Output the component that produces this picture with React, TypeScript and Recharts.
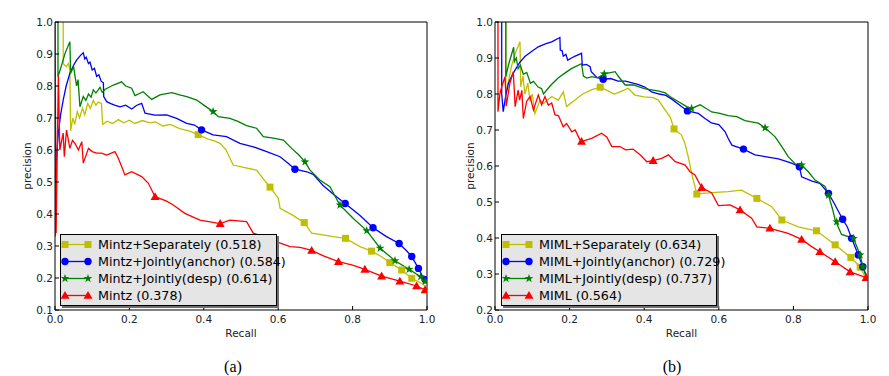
import React from 'react';
import { ComposedChart, Legend, Line, Scatter, XAxis, YAxis } from 'recharts';

type Pt = [number, number];
type Shape = 'square' | 'circle' | 'star' | 'triangle';

const FONT = '"DejaVu Sans", Verdana, sans-serif';
const YELLOW = '#bfbf00';
const BLUE = '#0000ff';
const GREEN = '#008000';
const RED = '#ff0000';

const recallTicks = [0, 0.2, 0.4, 0.6, 0.8, 1.0];
const precisionTicksA = [0.1, 0.2, 0.3, 0.4, 0.5, 0.6, 0.7, 0.8, 0.9, 1.0];
const precisionTicksB = [0.2, 0.3, 0.4, 0.5, 0.6, 0.7, 0.8, 0.9, 1.0];

// ---- (a) Mintz based runs, points are [recall, precision] ----
const mintzSepCurve: Pt[] = [
  [0.022, 1.0], [0.022, 0.87], [0.03, 0.86], [0.036, 0.87], [0.04, 0.85], [0.042, 0.66], [0.048, 0.7],
  [0.053, 0.68], [0.06, 0.72], [0.066, 0.7], [0.074, 0.73], [0.08, 0.71], [0.088, 0.745], [0.095, 0.73],
  [0.103, 0.755], [0.11, 0.74], [0.116, 0.75], [0.125, 0.745], [0.128, 0.68], [0.14, 0.69], [0.155, 0.683],
  [0.17, 0.695], [0.185, 0.685], [0.2, 0.693], [0.215, 0.683], [0.235, 0.692], [0.255, 0.685], [0.27, 0.688],
  [0.29, 0.675], [0.31, 0.68], [0.335, 0.667], [0.36, 0.66], [0.385, 0.648], [0.41, 0.635], [0.43, 0.628],
  [0.444, 0.621], [0.46, 0.6], [0.479, 0.553], [0.51, 0.545], [0.542, 0.537], [0.56, 0.51], [0.578, 0.484],
  [0.6, 0.45], [0.605, 0.418], [0.625, 0.405], [0.641, 0.395], [0.67, 0.373], [0.69, 0.34], [0.72, 0.335],
  [0.748, 0.329], [0.781, 0.324], [0.82, 0.298], [0.851, 0.284], [0.88, 0.265], [0.9, 0.248], [0.932, 0.225],
  [0.959, 0.199], [0.986, 0.183], [0.995, 0.175],
];
const mintzSepMarks: Pt[] = [
  [0.385, 0.648], [0.578, 0.484], [0.67, 0.373], [0.781, 0.324], [0.851, 0.284], [0.9, 0.248], [0.932, 0.225],
  [0.959, 0.199],
];

const mintzAnchorCurve: Pt[] = [
  [0.0, 0.33], [0.0, 0.5], [0.004, 0.58], [0.009, 0.652], [0.015, 0.71], [0.022, 0.756], [0.03, 0.8],
  [0.04, 0.84], [0.05, 0.865], [0.058, 0.881], [0.068, 0.895], [0.076, 0.904], [0.08, 0.885], [0.084, 0.89],
  [0.09, 0.87], [0.094, 0.875], [0.1, 0.85], [0.106, 0.855], [0.112, 0.83], [0.118, 0.835], [0.124, 0.815],
  [0.13, 0.81], [0.131, 0.767], [0.139, 0.751], [0.15, 0.745], [0.16, 0.74], [0.175, 0.735], [0.19, 0.74],
  [0.206, 0.728], [0.22, 0.74], [0.233, 0.746], [0.242, 0.715], [0.255, 0.712], [0.269, 0.709], [0.3, 0.71],
  [0.327, 0.699], [0.354, 0.683], [0.375, 0.678], [0.394, 0.663], [0.425, 0.647], [0.461, 0.642],
  [0.497, 0.621], [0.533, 0.61], [0.569, 0.595], [0.605, 0.579], [0.625, 0.56], [0.645, 0.54], [0.677, 0.532],
  [0.694, 0.524], [0.72, 0.49], [0.75, 0.46], [0.78, 0.433], [0.82, 0.395], [0.855, 0.357], [0.89, 0.33],
  [0.925, 0.308], [0.945, 0.285], [0.959, 0.267], [0.977, 0.23], [0.995, 0.189],
];
const mintzAnchorMarks: Pt[] = [
  [0.394, 0.663], [0.645, 0.54], [0.78, 0.433], [0.855, 0.357], [0.925, 0.308], [0.959, 0.267], [0.977, 0.23],
  [0.995, 0.195],
];

const mintzDespCurve: Pt[] = [
  [0.008, 1.0], [0.008, 0.829], [0.018, 0.866], [0.027, 0.902], [0.04, 0.938], [0.042, 0.84], [0.05, 0.86],
  [0.058, 0.8], [0.062, 0.82], [0.067, 0.735], [0.076, 0.767], [0.083, 0.755], [0.09, 0.775], [0.097, 0.765],
  [0.103, 0.788], [0.11, 0.778], [0.121, 0.796], [0.127, 0.78], [0.135, 0.79], [0.157, 0.803], [0.179, 0.813],
  [0.19, 0.8], [0.206, 0.793], [0.215, 0.77], [0.237, 0.782], [0.26, 0.758], [0.282, 0.772], [0.314, 0.779],
  [0.335, 0.772], [0.354, 0.767], [0.381, 0.756], [0.399, 0.741], [0.425, 0.72], [0.439, 0.704], [0.47, 0.699],
  [0.49, 0.69], [0.515, 0.676], [0.542, 0.668], [0.56, 0.642], [0.587, 0.637], [0.614, 0.631], [0.636, 0.605],
  [0.655, 0.585], [0.672, 0.563], [0.685, 0.538], [0.712, 0.506], [0.739, 0.485], [0.766, 0.428],
  [0.802, 0.386], [0.838, 0.348], [0.874, 0.293], [0.914, 0.254], [0.952, 0.227], [0.983, 0.204],
  [0.995, 0.183],
];
const mintzDespMarks: Pt[] = [
  [0.425, 0.72], [0.672, 0.563], [0.766, 0.428], [0.838, 0.348], [0.874, 0.293], [0.914, 0.254], [0.952, 0.227],
  [0.983, 0.204], [0.995, 0.19],
];

const mintzCurve: Pt[] = [
  [0.0, 1.0], [0.003, 0.34], [0.009, 0.834], [0.013, 0.6], [0.022, 0.653], [0.025, 0.579], [0.031, 0.662],
  [0.04, 0.605], [0.047, 0.63], [0.054, 0.62], [0.063, 0.6], [0.072, 0.626], [0.076, 0.559], [0.09, 0.605],
  [0.1, 0.595], [0.112, 0.59], [0.125, 0.59], [0.139, 0.584], [0.161, 0.595], [0.17, 0.575], [0.188, 0.522],
  [0.206, 0.532], [0.233, 0.517], [0.251, 0.496], [0.269, 0.454], [0.3, 0.44], [0.318, 0.428], [0.349, 0.402],
  [0.39, 0.381], [0.444, 0.37], [0.47, 0.381], [0.515, 0.376], [0.533, 0.34], [0.56, 0.33], [0.596, 0.313],
  [0.632, 0.298], [0.659, 0.296], [0.69, 0.286], [0.72, 0.27], [0.762, 0.251], [0.8, 0.24], [0.833, 0.227],
  [0.878, 0.206], [0.927, 0.19], [0.972, 0.175], [0.995, 0.163],
];
const mintzMarks: Pt[] = [
  [0.269, 0.454], [0.444, 0.37], [0.69, 0.286], [0.762, 0.251], [0.833, 0.227], [0.878, 0.206], [0.927, 0.19],
  [0.972, 0.175], [0.995, 0.163],
];

// ---- (b) MIML based runs ----
const mimlSepCurve: Pt[] = [
  [0.029, 1.0], [0.029, 0.8], [0.035, 0.83], [0.045, 0.88], [0.055, 0.915], [0.067, 0.945], [0.069, 0.82],
  [0.075, 0.85], [0.08, 0.8], [0.088, 0.83], [0.094, 0.78], [0.1, 0.8], [0.107, 0.746], [0.121, 0.783],
  [0.13, 0.774], [0.152, 0.793], [0.17, 0.783], [0.183, 0.806], [0.192, 0.765], [0.21, 0.78], [0.235, 0.8],
  [0.26, 0.812], [0.282, 0.819], [0.3, 0.81], [0.32, 0.8], [0.34, 0.808], [0.357, 0.816], [0.375, 0.797],
  [0.4, 0.792], [0.424, 0.79], [0.438, 0.783], [0.456, 0.756], [0.47, 0.735], [0.48, 0.703], [0.5, 0.686],
  [0.509, 0.663], [0.518, 0.626], [0.527, 0.58], [0.536, 0.543], [0.541, 0.522], [0.581, 0.526],
  [0.625, 0.529], [0.661, 0.533], [0.702, 0.51], [0.742, 0.487], [0.769, 0.45], [0.813, 0.431], [0.862, 0.42],
  [0.912, 0.381], [0.954, 0.346], [0.979, 0.319], [0.994, 0.288],
];
const mimlSepMarks: Pt[] = [
  [0.282, 0.819], [0.48, 0.703], [0.541, 0.522], [0.702, 0.51], [0.769, 0.45], [0.862, 0.42], [0.912, 0.381],
  [0.954, 0.346], [0.979, 0.319],
];

const mimlAnchorCurve: Pt[] = [
  [0.018, 1.0], [0.018, 0.8], [0.022, 0.751], [0.028, 0.79], [0.036, 0.83], [0.045, 0.85], [0.054, 0.867],
  [0.066, 0.887], [0.08, 0.904], [0.098, 0.918], [0.116, 0.931], [0.135, 0.939], [0.152, 0.945], [0.174, 0.957],
  [0.175, 0.922], [0.18, 0.92], [0.183, 0.905], [0.19, 0.91], [0.195, 0.894], [0.205, 0.9], [0.215, 0.905],
  [0.232, 0.913], [0.234, 0.88], [0.245, 0.882], [0.255, 0.876], [0.258, 0.862], [0.273, 0.846], [0.29, 0.841],
  [0.31, 0.843], [0.33, 0.836], [0.35, 0.836], [0.37, 0.83], [0.385, 0.826], [0.4, 0.82], [0.42, 0.806],
  [0.44, 0.8], [0.458, 0.796], [0.475, 0.785], [0.5, 0.765], [0.516, 0.753], [0.545, 0.746], [0.563, 0.732],
  [0.58, 0.72], [0.6, 0.715], [0.617, 0.695], [0.625, 0.677], [0.635, 0.658], [0.666, 0.647], [0.697, 0.631],
  [0.724, 0.626], [0.76, 0.62], [0.795, 0.608], [0.816, 0.598], [0.822, 0.57], [0.85, 0.558], [0.871, 0.552],
  [0.894, 0.524], [0.91, 0.495], [0.932, 0.452], [0.945, 0.43], [0.956, 0.399], [0.974, 0.353], [0.986, 0.32],
  [0.995, 0.297],
];
const mimlAnchorMarks: Pt[] = [
  [0.29, 0.841], [0.516, 0.753], [0.666, 0.647], [0.816, 0.598], [0.894, 0.524], [0.932, 0.452], [0.956, 0.399],
  [0.974, 0.353], [0.986, 0.32],
];

const mimlDespCurve: Pt[] = [
  [0.029, 1.0], [0.029, 0.848], [0.036, 0.88], [0.05, 0.93], [0.052, 0.89], [0.057, 0.9], [0.062, 0.87],
  [0.068, 0.88], [0.076, 0.855], [0.085, 0.86], [0.095, 0.83], [0.103, 0.835], [0.115, 0.82], [0.125, 0.815],
  [0.13, 0.8], [0.15, 0.825], [0.17, 0.845], [0.19, 0.86], [0.206, 0.871], [0.232, 0.884], [0.237, 0.85],
  [0.246, 0.844], [0.26, 0.848], [0.275, 0.845], [0.293, 0.856], [0.322, 0.862], [0.33, 0.85], [0.349, 0.825],
  [0.371, 0.825], [0.4, 0.815], [0.424, 0.811], [0.44, 0.808], [0.456, 0.803], [0.469, 0.793], [0.49, 0.78],
  [0.514, 0.765], [0.527, 0.76], [0.55, 0.77], [0.581, 0.75], [0.603, 0.746], [0.625, 0.74], [0.648, 0.737],
  [0.67, 0.726], [0.684, 0.723], [0.706, 0.719], [0.724, 0.706], [0.751, 0.681], [0.769, 0.654],
  [0.786, 0.626], [0.805, 0.606], [0.822, 0.603], [0.84, 0.584], [0.858, 0.561], [0.885, 0.543],
  [0.894, 0.519], [0.905, 0.48], [0.912, 0.45], [0.929, 0.41], [0.961, 0.399], [0.979, 0.353], [0.986, 0.32],
  [0.995, 0.293],
];
const mimlDespMarks: Pt[] = [
  [0.293, 0.856], [0.527, 0.76], [0.724, 0.706], [0.822, 0.603], [0.894, 0.519], [0.916, 0.445], [0.961, 0.399],
  [0.979, 0.353], [0.986, 0.32],
];

const mimlCurve: Pt[] = [
  [0.008, 1.0], [0.008, 0.751], [0.013, 0.8], [0.018, 0.82], [0.027, 0.848], [0.03, 0.766], [0.04, 0.83],
  [0.049, 0.862], [0.054, 0.765], [0.062, 0.811], [0.066, 0.783], [0.072, 0.81], [0.076, 0.732], [0.085, 0.78],
  [0.094, 0.793], [0.103, 0.756], [0.116, 0.797], [0.125, 0.77], [0.134, 0.793], [0.143, 0.769],
  [0.152, 0.775], [0.161, 0.742], [0.17, 0.74], [0.183, 0.709], [0.192, 0.718], [0.206, 0.695], [0.215, 0.7],
  [0.228, 0.672], [0.232, 0.668], [0.259, 0.677], [0.286, 0.691], [0.3, 0.68], [0.313, 0.654], [0.335, 0.654],
  [0.35, 0.645], [0.37, 0.647], [0.389, 0.631], [0.407, 0.612], [0.424, 0.615], [0.447, 0.621], [0.465, 0.631],
  [0.483, 0.612], [0.509, 0.603], [0.523, 0.584], [0.536, 0.575], [0.554, 0.54], [0.581, 0.525], [0.599, 0.49],
  [0.63, 0.492], [0.657, 0.478], [0.688, 0.455], [0.702, 0.431], [0.737, 0.427], [0.786, 0.413],
  [0.822, 0.396], [0.849, 0.376], [0.871, 0.362], [0.912, 0.334], [0.952, 0.306], [0.995, 0.29],
];
const mimlMarks: Pt[] = [
  [0.232, 0.668], [0.424, 0.615], [0.554, 0.54], [0.657, 0.478], [0.737, 0.427], [0.822, 0.396], [0.871, 0.362],
  [0.912, 0.334], [0.952, 0.306], [0.995, 0.29],
];

const namesA = ['Mintz+Separately (0.518)', 'Mintz+Jointly(anchor) (0.584)', 'Mintz+Jointly(desp) (0.614)', 'Mintz (0.378)'];
const namesB = ['MIML+Separately (0.634)', 'MIML+Jointly(anchor) (0.729)', 'MIML+Jointly(desp) (0.737)', 'MIML (0.564)'];

const colors = [YELLOW, BLUE, GREEN, RED];
const shapes: Shape[] = ['square', 'circle', 'star', 'triangle'];

interface Series {
  name: string;
  color: string;
  shape: Shape;
  curve: Pt[];
  marks: Pt[];
}

const buildSeries = (names: string[], curves: Pt[][], marks: Pt[][]): Series[] =>
  names.map((name, i) => ({ name, color: colors[i], shape: shapes[i], curve: curves[i], marks: marks[i] }));

const seriesA = buildSeries(
  namesA,
  [mintzSepCurve, mintzAnchorCurve, mintzDespCurve, mintzCurve],
  [mintzSepMarks, mintzAnchorMarks, mintzDespMarks, mintzMarks],
);
const seriesB = buildSeries(
  namesB,
  [mimlSepCurve, mimlAnchorCurve, mimlDespCurve, mimlCurve],
  [mimlSepMarks, mimlAnchorMarks, mimlDespMarks, mimlMarks],
);

const rows = (pts: Pt[]) => pts.map(([r, p]) => ({ r, p }));

function starPath(cx: number, cy: number, R: number) {
  let d = '';
  for (let i = 0; i < 10; i++) {
    const a = (-90 + i * 36) * (Math.PI / 180);
    const rad = i % 2 === 0 ? R : R * 0.4;
    d += `${i === 0 ? 'M' : 'L'}${cx + rad * Math.cos(a)},${cy + rad * Math.sin(a)}`;
  }
  return d + 'Z';
}

function Marker({ shape, cx, cy, color }: { shape: Shape; cx: number; cy: number; color: string }) {
  if (cx == null || cy == null) return null;
  switch (shape) {
    case 'square':
      return <rect x={cx - 3.5} y={cy - 3.5} width={7} height={7} fill={color} />;
    case 'circle':
      return <circle cx={cx} cy={cy} r={3.7} fill={color} />;
    case 'star':
      return <path d={starPath(cx, cy, 4.6)} fill={color} />;
    default:
      return <path d={`M${cx},${cy - 4.5}L${cx + 4.5},${cy + 3.3}L${cx - 4.5},${cy + 3.3}Z`} fill={color} />;
  }
}

// bottom axis: inward tick plus label
function RecallTick({ x, y, payload }: any) {
  return (
    <g>
      <line x1={x} x2={x} y1={y} y2={y - 4} stroke="#000" />
      <text x={x} y={y + 12.5} textAnchor="middle" fontSize={10.5} fontFamily={FONT} fill="#222">
        {Number(payload.value).toFixed(1)}
      </text>
    </g>
  );
}

function PrecisionTick({ x, y, payload }: any) {
  return (
    <g>
      <line x1={x} x2={x + 4} y1={y} y2={y} stroke="#000" />
      <text x={x - 2} y={y + 3.5} textAnchor="end" fontSize={10.5} fontFamily={FONT} fill="#222">
        {Number(payload.value).toFixed(1)}
      </text>
    </g>
  );
}

function LegendBox({ items, width }: { items: Series[]; width: number }) {
  return (
    <div
      style={{
        width,
        height: 72,
        boxSizing: 'border-box',
        border: '1px solid #000',
        background: '#e5e5e5',
        boxShadow: '2px 2px 0 #6f6f6f',
        fontFamily: FONT,
        fontSize: 12.7,
        color: '#000',
        paddingTop: 0.5,
      }}
    >
      {items.map((s) => (
        <div key={s.name} style={{ display: 'flex', alignItems: 'center', height: 17, whiteSpace: 'nowrap' }}>
          <svg width={37} height={17} style={{ flex: 'none' }}>
            <line x1={4} x2={27} y1={8.5} y2={8.5} stroke={s.color} strokeWidth={1.3} />
            <Marker shape={s.shape} cx={4} cy={8.5} color={s.color} />
            <Marker shape={s.shape} cx={27} cy={8.5} color={s.color} />
          </svg>
          <span>{s.name}</span>
        </div>
      ))}
    </div>
  );
}

interface PanelProps {
  series: Series[];
  yTicks: number[];
  yMin: number;
  left: number;
  width: number;
  marginLeft: number;
  marginRight: number;
  yAxisWidth: number;
  legendLeft: number;
  legendWidth: number;
}

function Panel({
  series,
  yTicks,
  yMin,
  left,
  width,
  marginLeft,
  marginRight,
  yAxisWidth,
  legendLeft,
  legendWidth,
}: PanelProps) {
  return (
    <div style={{ position: 'absolute', left, top: 0 }}>
      <ComposedChart width={width} height={340} margin={{ top: 22, right: marginRight, bottom: 0, left: marginLeft }}>
        <XAxis
          dataKey="r"
          type="number"
          domain={[0, 1]}
          ticks={recallTicks}
          interval={0}
          allowDataOverflow
          tickLine={false}
          tickSize={0}
          tickMargin={0}
          tick={<RecallTick />}
          stroke="#000"
          height={30}
          label={{ value: 'Recall', position: 'insideBottom', offset: 3, fontSize: 10.5, fontFamily: FONT, fill: '#222' }}
        />
        <XAxis
          xAxisId="top"
          orientation="top"
          mirror
          dataKey="r"
          type="number"
          domain={[0, 1]}
          ticks={recallTicks}
          interval={0}
          tick={false}
          tickSize={4}
          height={1}
          stroke="#000"
        />
        <YAxis
          type="number"
          domain={[yMin, 1]}
          ticks={yTicks}
          interval={0}
          allowDataOverflow
          tickLine={false}
          tickSize={0}
          tickMargin={0}
          tick={<PrecisionTick />}
          stroke="#000"
          width={yAxisWidth}
          label={{ value: 'precision', angle: -90, position: 'center', fontSize: 10.5, fontFamily: FONT, fill: '#222' }}
        />
        <YAxis
          yAxisId="right"
          orientation="right"
          mirror
          type="number"
          domain={[yMin, 1]}
          ticks={yTicks}
          interval={0}
          tick={false}
          tickSize={4}
          width={1}
          stroke="#000"
        />
        {series.map((s) => (
          <Line
            key={`line-${s.name}`}
            data={rows(s.curve)}
            dataKey="p"
            type="linear"
            stroke={s.color}
            strokeWidth={1.3}
            dot={false}
            activeDot={false}
            isAnimationActive={false}
          />
        ))}
        {series.map((s) => (
          <Scatter
            key={`marks-${s.name}`}
            data={rows(s.marks)}
            dataKey="p"
            fill={s.color}
            isAnimationActive={false}
            shape={(p: any) => <Marker shape={s.shape} cx={p.cx} cy={p.cy} color={s.color} />}
          />
        ))}
        <Legend
          layout="vertical"
          align="center"
          verticalAlign="middle"
          wrapperStyle={{ left: legendLeft, top: 234, width: 'auto' }}
          content={() => <LegendBox items={series} width={legendWidth} />}
        />
      </ComposedChart>
    </div>
  );
}

const captionStyle: React.CSSProperties = {
  position: 'absolute',
  top: 358,
  width: 60,
  textAlign: 'center',
  fontFamily: '"Liberation Serif", "Times New Roman", serif',
  fontSize: 16,
  lineHeight: '18px',
  color: '#000',
};

export default function App() {
  return (
    <div style={{ position: 'absolute', left: 0, top: 0, width: 889, height: 376, background: '#fff' }}>
      <Panel
        series={seriesA}
        yTicks={precisionTicksA}
        yMin={0.1}
        left={0}
        width={440}
        marginLeft={0}
        marginRight={13}
        yAxisWidth={55}
        legendLeft={60}
        legendWidth={217}
      />
      <Panel
        series={seriesB}
        yTicks={precisionTicksB}
        yMin={0.2}
        left={440}
        width={449}
        marginLeft={5}
        marginRight={21}
        yAxisWidth={50}
        legendLeft={61}
        legendWidth={216}
      />
      <div style={{ ...captionStyle, left: 203 }}>(a)</div>
      <div style={{ ...captionStyle, left: 642 }}>(b)</div>
    </div>
  );
}
